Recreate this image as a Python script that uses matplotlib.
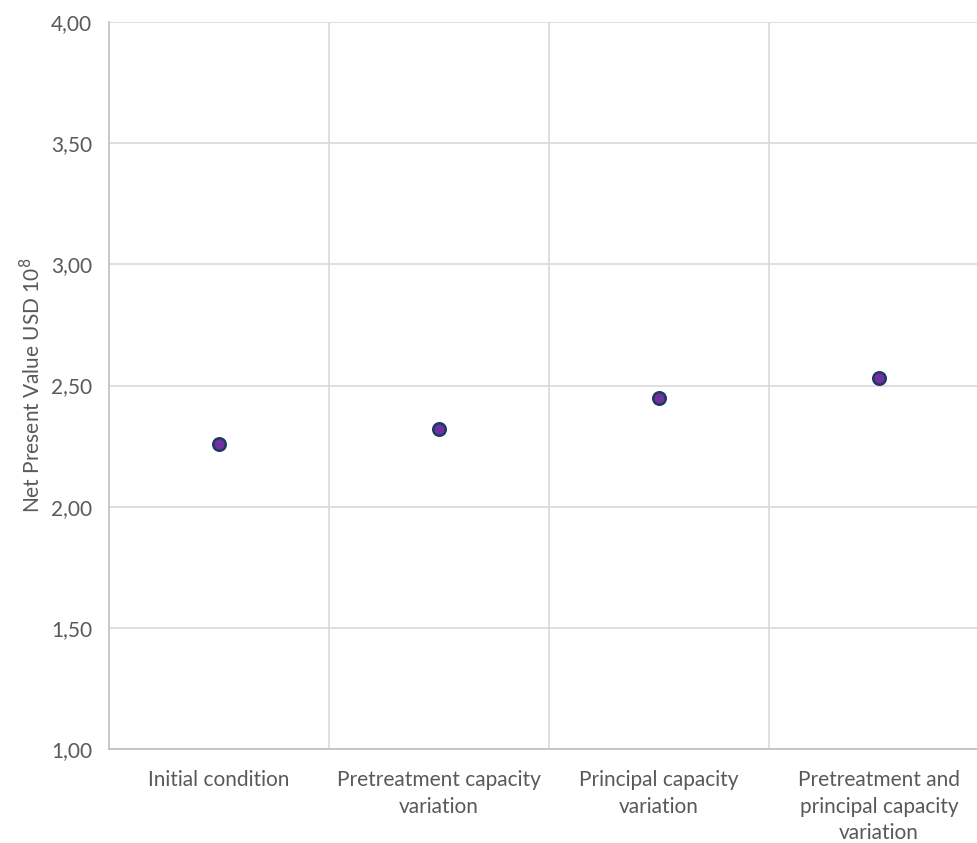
import matplotlib
matplotlib.use("Agg")
import matplotlib.pyplot as plt

categories = ["Initial condition",
              "Pretreatment capacity\nvariation",
              "Principal capacity\nvariation",
              "Pretreatment and\nprincipal capacity\nvariation"]
npv_values = [2.26, 2.32, 2.45, 2.53]
y_ticks = [1.0, 1.5, 2.0, 2.5, 3.0, 3.5, 4.0]
y_tick_labels = ["1,00", "1,50", "2,00", "2,50", "3,00", "3,50", "4,00"]

plt.rcParams['font.family'] = ['Lato', 'DejaVu Sans']
text_color = '#595959'
grid_color = '#d9d9d9'

W, H = 977, 843
fig = plt.figure(figsize=(W / 100, H / 100), dpi=100)
left, right, top, bottom = 109, 989, 22, 749
ax = fig.add_axes([left / W, (H - bottom) / H, (right - left) / W, (bottom - top) / H])

x = list(range(len(categories)))
ax.plot(x, npv_values, linestyle='none', marker='o', markersize=9,
        markerfacecolor='#7030A0', markeredgecolor='#1F3864', markeredgewidth=1.8,
        zorder=3, clip_on=False)

ax.set_xlim(-0.5, len(categories) - 0.5)
ax.set_ylim(1.0, 4.0)
ax.set_yticks(y_ticks)
ax.set_yticklabels(y_tick_labels)
ax.set_xticks(x)
ax.set_xticklabels(categories, linespacing=1.42)
ax.set_xticks([i + 0.5 for i in x[:-1]], minor=True)

ax.grid(axis='y', which='major', color=grid_color, linewidth=1.2)
ax.grid(axis='x', which='minor', color=grid_color, linewidth=1.2)
ax.set_axisbelow(True)

for s in ['top', 'right']:
    ax.spines[s].set_visible(False)
for s in ['left', 'bottom']:
    ax.spines[s].set_color('#bfbfbf')
    ax.spines[s].set_linewidth(1.2)

ax.tick_params(axis='both', which='both', length=0, colors=text_color, labelsize=15)
ax.tick_params(axis='x', which='major', pad=15)
ax.tick_params(axis='y', pad=12)

ax.set_ylabel("Net Present Value USD 10$^{8}$", color=text_color, fontsize=15, labelpad=5)

fig.savefig("out.png", dpi=100)
